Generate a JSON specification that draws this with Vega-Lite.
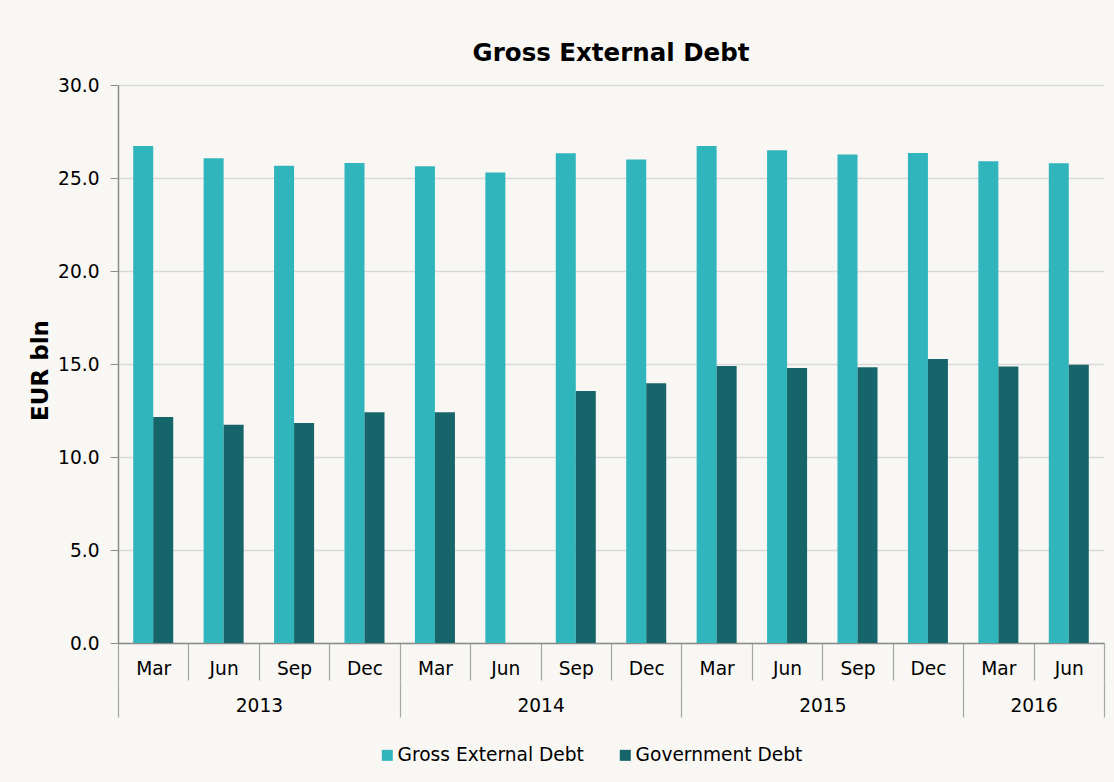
{
  "$schema": "https://vega.github.io/schema/vega-lite/v6.json",
  "width": 986,
  "height": 558,
  "autosize": {"type": "none"},
  "padding": {"left": 118, "top": 85, "right": 10, "bottom": 139},
  "background": "#f8f7f4",
  "config": {
    "font": "DejaVu Sans",
    "view": {"stroke": null},
    "axis": {"labelFont": "DejaVu Sans", "titleFont": "DejaVu Sans", "labelColor": "#000000", "titleColor": "#000000"}
  },
  "title": {
    "text": "Gross External Debt",
    "font": "DejaVu Sans",
    "fontSize": 24.5,
    "fontWeight": "bold",
    "color": "#000000",
    "anchor": "middle",
    "frame": "group",
    "baseline": "alphabetic",
    "offset": -9
  },
  "data": {
    "values": [
      {"quarter": "2013 Mar", "series": "Gross External Debt", "value": 26.72},
      {"quarter": "2013 Jun", "series": "Gross External Debt", "value": 26.06},
      {"quarter": "2013 Sep", "series": "Gross External Debt", "value": 25.66},
      {"quarter": "2013 Dec", "series": "Gross External Debt", "value": 25.81},
      {"quarter": "2014 Mar", "series": "Gross External Debt", "value": 25.63},
      {"quarter": "2014 Jun", "series": "Gross External Debt", "value": 25.29},
      {"quarter": "2014 Sep", "series": "Gross External Debt", "value": 26.33},
      {"quarter": "2014 Dec", "series": "Gross External Debt", "value": 26.0},
      {"quarter": "2015 Mar", "series": "Gross External Debt", "value": 26.72},
      {"quarter": "2015 Jun", "series": "Gross External Debt", "value": 26.49},
      {"quarter": "2015 Sep", "series": "Gross External Debt", "value": 26.27},
      {"quarter": "2015 Dec", "series": "Gross External Debt", "value": 26.34},
      {"quarter": "2016 Mar", "series": "Gross External Debt", "value": 25.9},
      {"quarter": "2016 Jun", "series": "Gross External Debt", "value": 25.79},
      {"quarter": "2013 Mar", "series": "Government Debt", "value": 12.15},
      {"quarter": "2013 Jun", "series": "Government Debt", "value": 11.74},
      {"quarter": "2013 Sep", "series": "Government Debt", "value": 11.83},
      {"quarter": "2013 Dec", "series": "Government Debt", "value": 12.4},
      {"quarter": "2014 Mar", "series": "Government Debt", "value": 12.4},
      {"quarter": "2014 Sep", "series": "Government Debt", "value": 13.55},
      {"quarter": "2014 Dec", "series": "Government Debt", "value": 13.96},
      {"quarter": "2015 Mar", "series": "Government Debt", "value": 14.89},
      {"quarter": "2015 Jun", "series": "Government Debt", "value": 14.78},
      {"quarter": "2015 Sep", "series": "Government Debt", "value": 14.82},
      {"quarter": "2015 Dec", "series": "Government Debt", "value": 15.27},
      {"quarter": "2016 Mar", "series": "Government Debt", "value": 14.87},
      {"quarter": "2016 Jun", "series": "Government Debt", "value": 14.96}
    ]
  },
  "layer": [
    {
      "mark": {"type": "bar"},
      "encoding": {
        "x": {
          "field": "quarter",
          "type": "nominal",
          "sort": ["2013 Mar", "2013 Jun", "2013 Sep", "2013 Dec", "2014 Mar", "2014 Jun", "2014 Sep", "2014 Dec", "2015 Mar", "2015 Jun", "2015 Sep", "2015 Dec", "2016 Mar", "2016 Jun"],
          "scale": {"paddingInner": 0, "paddingOuter": 0},
          "axis": {
            "orient": "bottom",
            "title": null,
            "labelExpr": "datum.value ? slice(datum.value, 5) : ''",
            "labelAngle": 0,
            "labelFontSize": 18.6,
            "labelBaseline": "middle",
            "labelPadding": -12,
            "tickBand": "extent",
            "tickSize": 37,
            "tickColor": "#a6a6a6",
            "tickWidth": 1.2,
            "domainColor": "#8c8c8c",
            "domainWidth": 1.5,
            "labelOverlap": false
          }
        },
        "xOffset": {
          "field": "series",
          "type": "nominal",
          "sort": ["Gross External Debt", "Government Debt"],
          "scale": {"paddingInner": 0, "paddingOuter": 0.76}
        },
        "y": {
          "field": "value",
          "type": "quantitative",
          "scale": {"domain": [0, 30]},
          "axis": {
            "title": "EUR bln",
            "titleFontSize": 23,
            "titleFontWeight": "bold",
            "titleAngle": -90,
            "titleX": -71,
            "titleY": 285,
            "titleAlign": "center",
            "titleBaseline": "alphabetic",
            "values": [0, 5, 10, 15, 20, 25, 30],
            "format": ".1f",
            "labelFontSize": 18.6,
            "labelPadding": 11,
            "tickSize": 8,
            "tickColor": "#8c8c8c",
            "domainColor": "#8c8c8c",
            "domainWidth": 1.5,
            "gridColor": "#d9d9d9",
            "gridWidth": 1.3
          }
        },
        "color": {
          "field": "series",
          "type": "nominal",
          "sort": ["Gross External Debt", "Government Debt"],
          "scale": {"domain": ["Gross External Debt", "Government Debt"], "range": ["#31b5bc", "#16656b"]},
          "legend": {
            "title": null,
            "orient": "none",
            "direction": "horizontal",
            "legendX": 260,
            "legendY": 661,
            "symbolType": "square",
            "symbolSize": 121,
            "symbolStrokeWidth": 0,
            "labelFont": "DejaVu Sans",
            "labelFontSize": 18.6,
            "labelColor": "#000000",
            "labelOffset": 1,
            "labelLimit": 400,
            "columnPadding": 32,
            "padding": 0
          }
        }
      }
    },
    {
      "mark": {"type": "tick", "opacity": 0},
      "encoding": {
        "x": {
          "field": "quarter",
          "type": "nominal",
          "sort": ["2013 Mar", "2013 Jun", "2013 Sep", "2013 Dec", "2014 Mar", "2014 Jun", "2014 Sep", "2014 Dec", "2015 Mar", "2015 Jun", "2015 Sep", "2015 Dec", "2016 Mar", "2016 Jun"],
          "axis": {
            "orient": "bottom",
            "title": null,
            "offset": 37,
            "domain": false,
            "labelExpr": "indexof(['2013 Sep','2014 Sep','2015 Sep','2016 Jun'], datum.value) >= 0 ? slice(datum.value, 0, 4) : ''",
            "labelAngle": 0,
            "labelOffset": -35.2,
            "labelFontSize": 18.6,
            "labelBaseline": "middle",
            "labelPadding": -12,
            "labelOverlap": false,
            "tickBand": "extent",
            "tickSize": 37,
            "tickColor": "#a6a6a6",
            "tickWidth": 1.2,
            "tickOpacity": {
              "condition": {"test": "datum.index === -1 || indexof(['2013 Dec','2014 Dec','2015 Dec','2016 Jun'], datum.value) >= 0", "value": 1},
              "value": 0
            }
          }
        }
      }
    }
  ],
  "resolve": {"axis": {"x": "independent"}}
}
